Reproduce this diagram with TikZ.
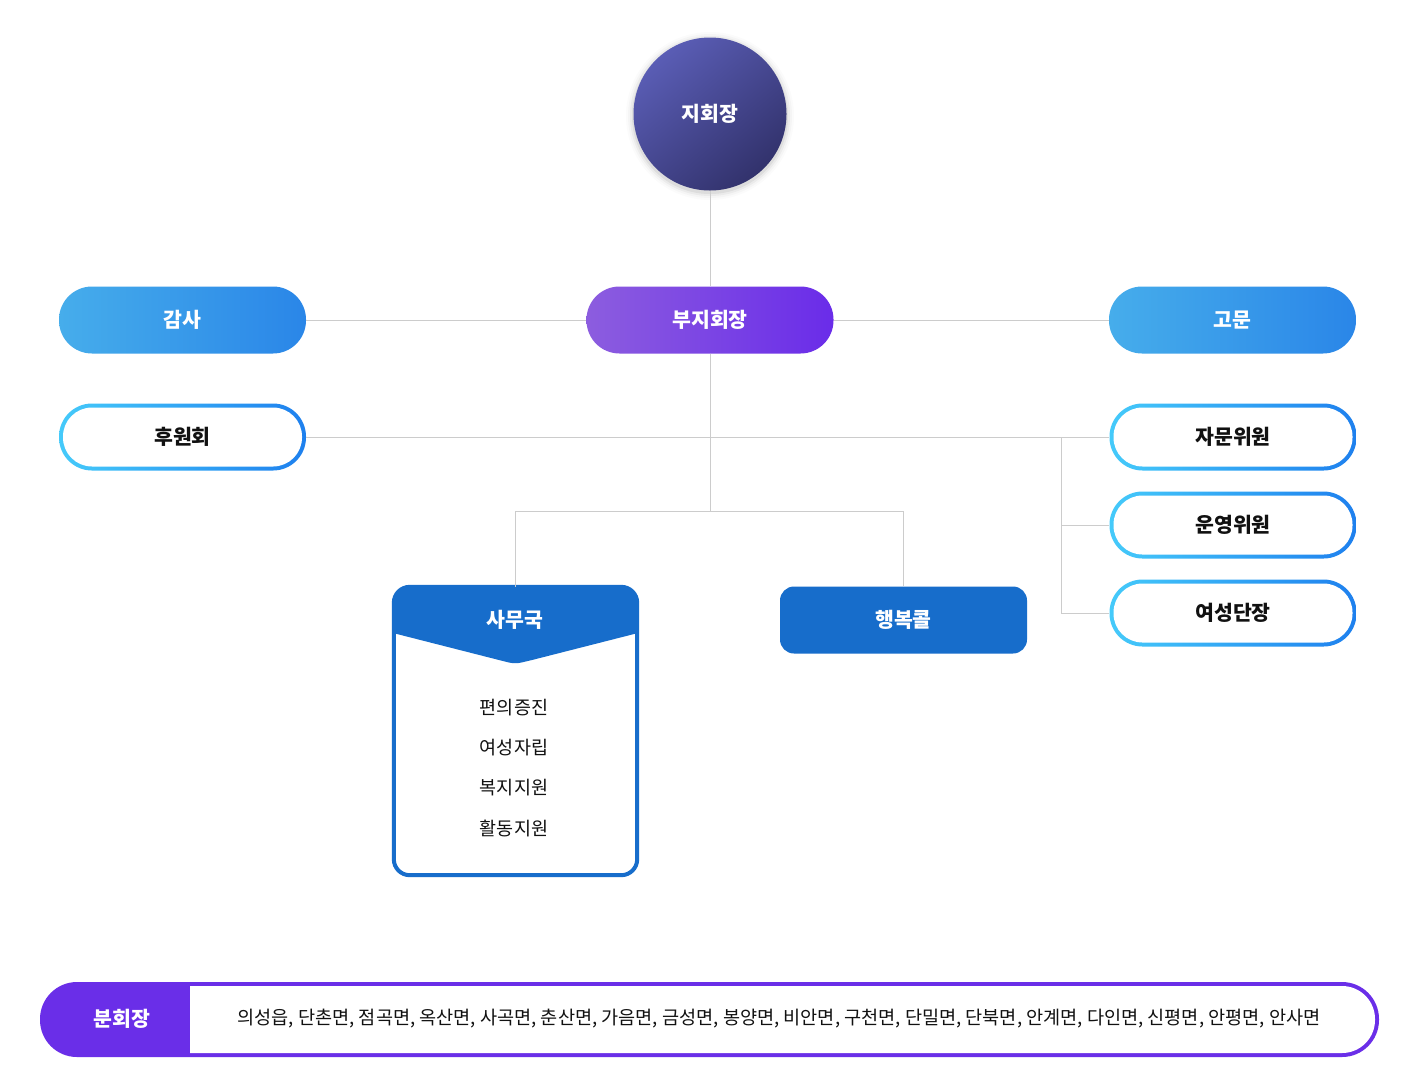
\documentclass[tikz,border=0pt]{standalone}
\usepackage{fontspec}
\setmainfont{Noto Sans CJK KR}
\definecolor{lineg}{HTML}{CCCCCC}
\definecolor{circA}{HTML}{5A5DB5}
\definecolor{circB}{HTML}{32326C}
\definecolor{vpA}{HTML}{8C5DDF}
\definecolor{vpB}{HTML}{6A2CE9}
\definecolor{skA}{HTML}{46ADEB}
\definecolor{skB}{HTML}{2A86E8}
\definecolor{bdA}{HTML}{45CAFA}
\definecolor{bdB}{HTML}{1E80EE}
\definecolor{navy}{HTML}{176DCB}
\definecolor{purp}{HTML}{6A2EE8}
\definecolor{txt}{HTML}{111111}
\tikzset{
  x=1pt, y=-1pt,
  conn/.style={draw=lineg, line width=0.9pt},
  lbl/.style={font=\fontsize{20.5}{22}\selectfont\bfseries},
  pill/.style={rectangle, rounded corners=33pt, minimum width=247pt, minimum height=67pt, inner sep=0pt, lbl, text=white},
  skypill/.style={pill, left color=skA, right color=skB},
  gradring/.style={pill, left color=bdA, right color=bdB},
  innerpill/.style={rectangle, rounded corners=29pt, minimum width=239pt, minimum height=59pt, inner sep=0pt, fill=white, text=txt, lbl},
  item/.style={text=txt, font=\fontsize{18.5}{20}\selectfont},
}
\begin{document}
\begin{tikzpicture}
\useasboundingbox (0,0) rectangle (1420,1080);
\fill[white] (0,0) rectangle (1420,1080);

% junctions
\coordinate (j1) at (710,511);
\coordinate (rj) at (1061,437);

% soft halo behind circle
\foreach \r/\o in {84/0.015,82/0.025,80/0.04,78/0.06}{
  \fill[black, opacity=\o] (710,116) circle (\r);
}

% top circle
\node[circle, minimum size=153pt, inner sep=0pt, top color=circA, bottom color=circB, shading angle=40, text=white, lbl] (pres) at (710,114) {지회장};

% vice president
\node[pill, left color=vpA, right color=vpB] (vp) at (710,320) {부지회장};
\node[skypill] (audit) at (182.5,320) {감사};
\node[skypill] (adv) at (1232.5,320) {고문};

% outlined pills
\node[gradring] (spon) at (182.5,437) {};
\node[innerpill] (sponi) at (spon) {후원회};
\node[gradring] (cm1) at (1233,437) {};
\node[innerpill] (cm1i) at (cm1) {자문위원};
\node[gradring] (cm2) at (1233,525) {};
\node[innerpill] (cm2i) at (cm2) {운영위원};
\node[gradring] (cm3) at (1233,613) {};
\node[innerpill] (cm3i) at (cm3) {여성단장};

% office
\node[rectangle, minimum width=243pt, minimum height=288pt, inner sep=0pt, rounded corners=16pt, fill=white] (off) at (515.5,731) {};
\begin{scope}
  \clip[rounded corners=16pt] (off.north west) rectangle (off.south east);
  \fill[navy] (393,584) -- (638,584) -- (638,633) -- (532,660) [rounded corners=6pt] -- (515,664) [sharp corners] -- (499,660) -- (393,633) -- cycle;
\end{scope}
\draw[navy, line width=4pt, rounded corners=16pt] (off.north west) rectangle (off.south east);
\node[text=white, lbl] (offt) at (515,620) {사무국};
\node[item] (o1) at (514,708) {편의증진};
\node[item] (o2) at (514,748) {여성자립};
\node[item] (o3) at (514,788) {복지지원};
\node[item] (o4) at (514,828) {활동지원};

% happy call
\node[rectangle, minimum width=247pt, minimum height=67pt, inner sep=0pt, rounded corners=14pt, fill=navy, text=white, lbl] (hc) at (903.5,620) {행복콜};

% lines
\draw[conn] (pres.south) -- (vp.north);
\draw[conn] (audit.east) -- (vp.west);
\draw[conn] (vp.east) -- (adv.west);
\draw[conn] (vp.south) -- (j1);
\draw[conn] (spon.east) -- (cm1.west);
\draw[conn] (j1) -| (off.north);
\draw[conn] (j1) -| (hc.north);
\draw[conn] (rj) |- (cm2.west);
\draw[conn] (rj) |- (cm3.west);

% bottom bar
\node[rectangle, rounded corners=37pt, minimum width=1339pt, minimum height=75pt, inner sep=0pt, fill=purp] (bar) at (709.5,1019.5) {};
\fill[white] (190,986) [rounded corners=33pt] -- (1375,986) -- (1375,1053) [sharp corners] -- (190,1053) -- cycle;
\node[text=white, lbl] (bh) at (122,1019) {분회장};
\node[text=txt, font=\fontsize{18.6}{20}\selectfont] (bl) at (779,1019) {의성읍, 단촌면, 점곡면, 옥산면, 사곡면, 춘산면, 가음면, 금성면, 봉양면, 비안면, 구천면, 단밀면, 단북면, 안계면, 다인면, 신평면, 안평면, 안사면};
\end{tikzpicture}
\end{document}
